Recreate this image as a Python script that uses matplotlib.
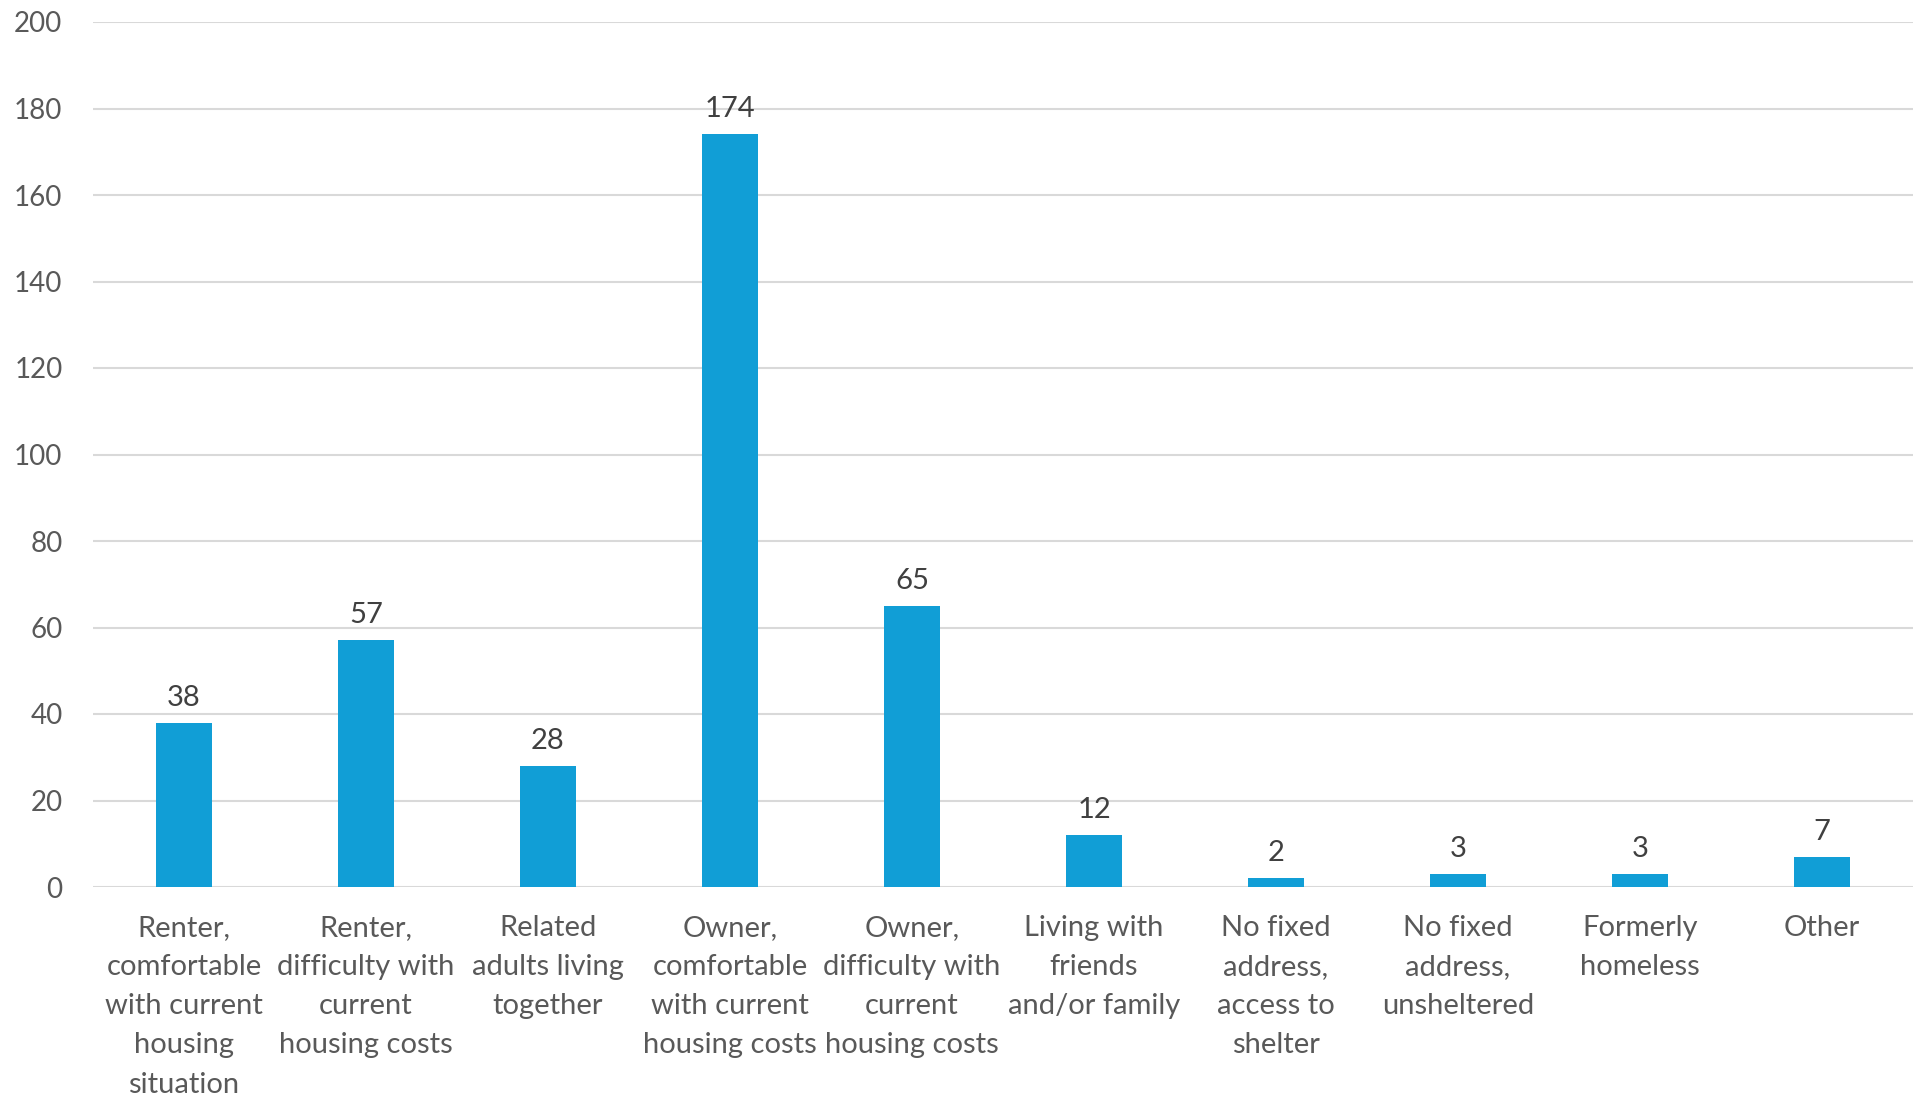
import matplotlib.pyplot as plt

plt.rcParams['font.family'] = ['Lato', 'DejaVu Sans']

categories = [
    "Renter,\ncomfortable\nwith current\nhousing\nsituation",
    "Renter,\ndifficulty with\ncurrent\nhousing costs",
    "Related\nadults living\ntogether",
    "Owner,\ncomfortable\nwith current\nhousing costs",
    "Owner,\ndifficulty with\ncurrent\nhousing costs",
    "Living with\nfriends\nand/or family",
    "No fixed\naddress,\naccess to\nshelter",
    "No fixed\naddress,\nunsheltered",
    "Formerly\nhomeless",
    "Other",
]
counts = [38, 57, 28, 174, 65, 12, 2, 3, 3, 7]
yticks = [0, 20, 40, 60, 80, 100, 120, 140, 160, 180, 200]

fig = plt.figure(figsize=(19.21, 11.02), dpi=100)
ax = fig.add_axes([93 / 1921, 1 - 887 / 1102, (1913 - 93) / 1921, (887 - 22) / 1102])

x = range(len(counts))
bars = ax.bar(x, counts, width=0.31, color='#119ed6', zorder=3)
for xi, v in zip(x, counts):
    ax.text(xi, v + 2.8, str(v), ha='center', va='bottom', fontsize=21, color='#404040')

ax.set_xlim(-0.5, len(counts) - 0.5)
ax.set_ylim(0, 200)
ax.set_yticks(yticks)
ax.set_yticklabels([str(t) for t in yticks])
ax.set_xticks(list(x))
ax.set_xticklabels(categories, linespacing=1.63)
ax.yaxis.grid(True, color='#d9d9d9', linewidth=1.5, zorder=0)
for s in ax.spines.values():
    s.set_visible(False)
ax.tick_params(axis='y', length=0, pad=22, labelsize=20, labelcolor='#595959')
ax.tick_params(axis='x', length=0, pad=20, labelsize=21, labelcolor='#595959')

fig.savefig('out.png', dpi=100)
